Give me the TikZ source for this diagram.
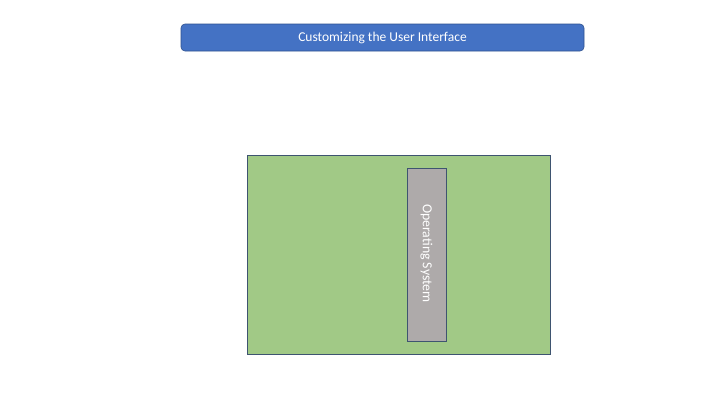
\documentclass[tikz,border=0pt]{standalone}
\usepackage{fontspec}
\setmainfont{Carlito}
\definecolor{titleblue}{HTML}{4472C4}
\definecolor{titleedge}{HTML}{2F528F}
\definecolor{boxgreen}{HTML}{A1C986}
\definecolor{boxedge}{HTML}{3E5470}
\definecolor{osgray}{HTML}{AEAAAA}
\begin{document}
\begin{tikzpicture}[x=1pt,y=-1pt,
  titlebox/.style={draw=titleedge,fill=titleblue,rounded corners=4pt,line width=0.6pt,text=white,font=\fontsize{13.5}{16}\selectfont},
  panel/.style={draw=boxedge,fill=boxgreen,line width=0.8pt},
  osbox/.style={draw=boxedge,fill=osgray,line width=0.8pt}]
\useasboundingbox (0,0) rectangle (720,405);
\fill[white] (0,0) rectangle (720,405);
\node[titlebox,minimum width=403pt,minimum height=27pt,inner sep=0pt] (title) at (382.5,37.5) {Customizing the User Interface};
\node[panel,minimum width=303pt,minimum height=199pt,inner sep=0pt] (panel) at (398.5,254.5) {};
\node[osbox,minimum width=39pt,minimum height=173pt,inner sep=0pt] (os) at (426.5,254.5) {};
\node[text=white,rotate=-90,font=\fontsize{13.8}{16}\selectfont,inner sep=0pt] (oslabel) at (426.5,253.5) {Operating System};
\end{tikzpicture}
\end{document}
